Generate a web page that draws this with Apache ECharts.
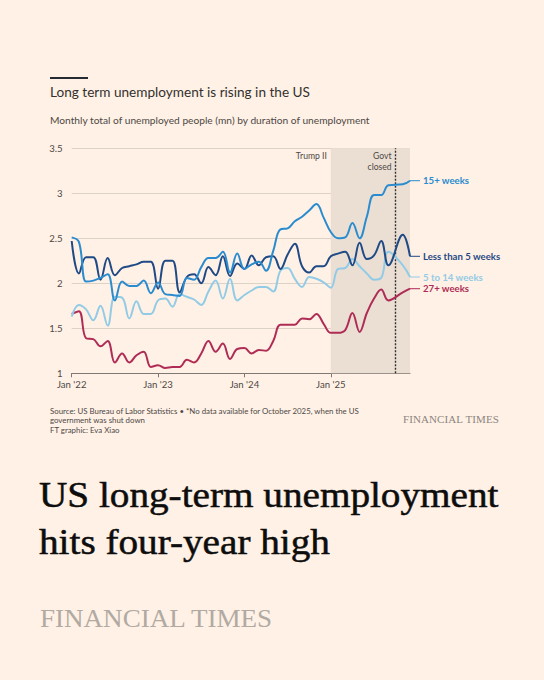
<!DOCTYPE html>
<html><head><meta charset="utf-8">
<script src="https://cdn.jsdelivr.net/npm/echarts@6/dist/echarts.min.js"></script>
<style>
html,body{margin:0;padding:0;background:#fff1e5;}
#wrap{position:relative;width:544px;height:680px;overflow:hidden;background:#fff1e5;font-family:Lato,"Noto Sans",sans-serif;}
#chart{position:absolute;left:0;top:0;width:544px;height:680px;}
.t{position:absolute;white-space:nowrap;}
</style></head>
<body><div id="wrap">
<div id="chart"></div>
<div class="t" style="left:50px;top:76.5px;width:38px;height:2.5px;background:#262a33;"></div>
<div class="t" style="left:50px;top:84px;font-size:13.6px;color:#33302e;">Long term unemployment is rising in the US</div>
<div class="t" style="left:50px;top:114px;font-size:10.2px;color:#4d4845;">Monthly total of unemployed people (mn) by duration of unemployment</div>
<div class="t" style="left:50px;top:406.5px;font-size:7.85px;line-height:9.7px;color:#4d4845;">Source: US Bureau of Labor Statistics &bull; *No data available for October 2025, when the US<br>government was shut down<br>FT graphic: Eva Xiao</div>
<div class="t" style="left:403px;top:413px;font-family:'Liberation Serif',serif;font-size:11px;color:#8c8580;letter-spacing:0.1px;">FINANCIAL TIMES</div>
<div class="t" style="left:39px;top:472px;font-family:'Liberation Serif',serif;font-size:35px;line-height:47px;color:#0d0d0d;transform:scaleX(1.12);transform-origin:0 0;-webkit-text-stroke:0.5px #0d0d0d;">US long-term unemployment<br>hits four-year high</div>
<div class="t" style="left:40px;top:604px;font-family:'Liberation Serif',serif;font-size:26px;color:#b1aaa3;transform:scaleX(1.04);transform-origin:0 0;">FINANCIAL TIMES</div>
</div>
<script>
// Monthly categories Jan 2022 - Dec 2025
var months = [];
for (var y = 2022; y <= 2025; y++) for (var m = 1; m <= 12; m++) months.push(y + '-' + (m < 10 ? '0' + m : m));

var seriesNames = ['15+ weeks', 'Less than 5 weeks', '5 to 14 weeks', '27+ weeks'];
var seriesColors = ['#2a8ccf', '#1f4a86', '#92cbe6', '#ae2c55'];

var weeks15plus = [2.51,2.46,2.02,2.03,2.06,2.10,1.81,2.02,1.97,1.97,2.03,1.89,
  2.01,1.88,1.87,1.86,2.06,2.04,2.18,2.28,2.28,2.35,2.12,2.33,
  2.16,2.21,2.24,2.14,2.36,2.60,2.61,2.69,2.74,2.81,2.88,2.73,
  2.57,2.50,2.51,2.67,2.50,2.74,2.98,2.98,3.09,null,3.10,3.14];
var lessThan5 = [2.47,2.11,2.29,2.29,2.04,2.28,2.09,2.17,2.19,2.21,2.24,2.24,
  1.94,2.25,2.25,1.90,2.07,2.10,2.00,2.18,2.09,2.30,2.08,2.22,
  2.16,2.31,2.20,2.29,2.30,2.16,2.32,2.44,2.19,2.12,2.19,2.19,
  2.30,2.33,2.35,2.20,2.45,2.27,2.31,2.47,2.20,null,2.54,2.30];
var weeks5to14 = [1.63,1.76,1.71,1.59,1.75,1.53,1.85,1.84,1.61,1.80,1.66,1.66,
  1.81,1.83,1.74,1.88,1.85,1.82,1.76,1.91,2.03,1.83,2.05,1.81,
  1.87,1.92,1.96,1.96,1.91,2.14,2.17,2.05,1.96,2.07,2.05,2.01,
  1.95,2.16,2.17,2.27,2.19,2.11,2.04,2.06,2.35,null,2.20,2.07];
var weeks27plus = [1.66,1.69,1.39,1.38,1.30,1.36,1.12,1.22,1.12,1.20,1.24,1.07,
  1.09,1.06,1.07,1.07,1.15,1.12,1.22,1.36,1.24,1.33,1.16,1.27,
  1.28,1.22,1.26,1.25,1.36,1.54,1.54,1.54,1.61,1.60,1.66,1.55,
  1.45,1.45,1.48,1.67,1.46,1.67,1.83,1.93,1.81,null,1.90,1.94];

var yTicks = {min: 1, max: 3.5, interval: 0.5};
var shadeStart = '2025-01', shadeEnd = '2025-12', shutdownMonth = '2025-10';
var xTickLabels = {'2022-01': "Jan '22", '2023-01': "Jan '23", '2024-01': "Jan '24", '2025-01': "Jan '25"};

var allData = [weeks15plus, lessThan5, weeks5to14, weeks27plus];

var chart = echarts.init(document.getElementById('chart'), null, {renderer: 'svg'});
var FONT = 'Lato, "Noto Sans", sans-serif';
var series = allData.map(function (d, i) {
  return {
    name: seriesNames[i], type: 'line', data: d, smooth: 0.4, connectNulls: true,
    symbol: 'none', lineStyle: {width: 2, color: seriesColors[i]}, itemStyle: {color: seriesColors[i]},
    z: 10 - i,
    endLabel: {
      show: true, distance: 0,
      formatter: '{l|}{t|' + seriesNames[i] + '}',
      rich: {
        l: {width: 10, height: 1, backgroundColor: seriesColors[i]},
        t: {color: seriesColors[i], fontSize: 9.6, fontWeight: 'bold', fontFamily: FONT, padding: [0, 0, 0, 3]}
      }
    }
  };
});
series[0].markArea = {
  silent: true, itemStyle: {color: '#ebdfd4'},
  data: [[{xAxis: shadeStart}, {xAxis: shadeEnd}]]
};
series[0].markLine = {
  silent: true, symbol: 'none',
  lineStyle: {type: [2, 1.5], color: '#33302e', width: 1.4},
  label: {show: false},
  data: [{xAxis: shutdownMonth}]
};
series[0].markPoint = {
  silent: true, symbol: 'circle', symbolSize: 0,
  label: {show: true, position: 'left', distance: 4, color: '#4d4845', fontSize: 8.6, fontFamily: FONT, align: 'right', lineHeight: 10.5},
  data: [
    {coord: [shadeStart, 3.5], value: 'Trump II', label: {formatter: 'Trump II', offset: [0, 8]}},
    {coord: [shutdownMonth, 3.5], value: 'Govt', label: {formatter: 'Govt\nclosed', offset: [0, 13]}}
  ]
};

chart.setOption({
  animation: false,
  backgroundColor: 'transparent',
  grid: {left: 71.7, right: 134, top: 148.3, bottom: 306.7, containLabel: false},
  xAxis: {
    type: 'category', data: months, boundaryGap: false,
    axisLine: {lineStyle: {color: '#807873', width: 1}},
    axisTick: {length: 4, lineStyle: {color: '#807873'}, interval: function (i, v) { return !!xTickLabels[v]; }},
    axisLabel: {interval: function (i, v) { return !!xTickLabels[v]; }, formatter: function (v) { return xTickLabels[v] || ''; },
      color: '#4d4845', fontSize: 9.6, fontFamily: FONT, margin: 6},
    splitLine: {show: false}
  },
  yAxis: {
    type: 'value', min: yTicks.min, max: yTicks.max, interval: yTicks.interval,
    axisLine: {show: false}, axisTick: {show: false},
    axisLabel: {color: '#4d4845', fontSize: 9.6, fontFamily: FONT, margin: 9},
    splitLine: {lineStyle: {color: '#ddd2c8', width: 1}}
  },
  series: series
});
</script>
</body></html>
